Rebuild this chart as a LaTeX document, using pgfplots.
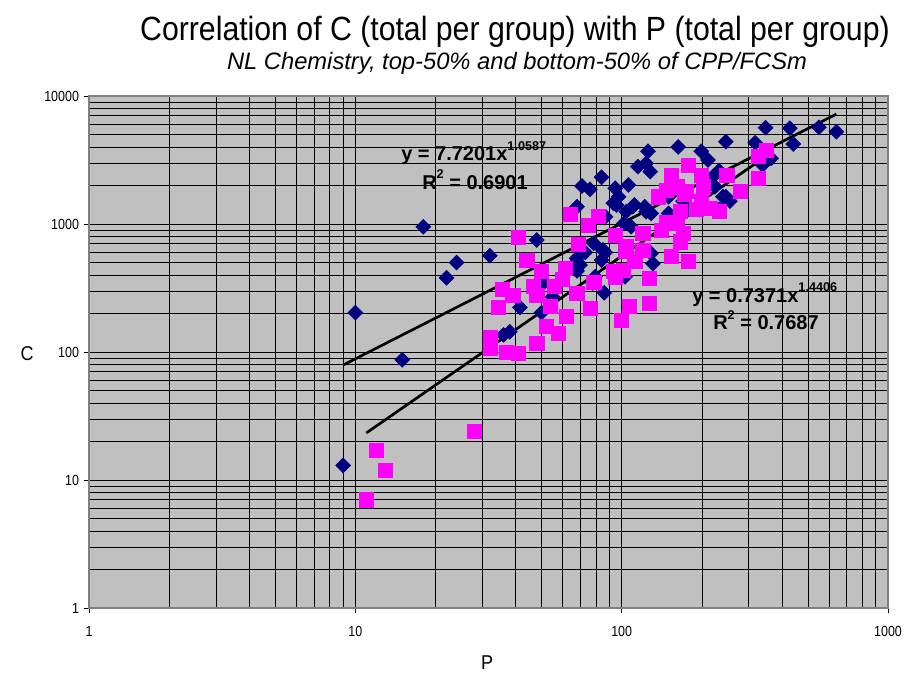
\documentclass[border=0pt]{standalone}
\usepackage{pgfplots}
\pgfplotsset{compat=1.18}
\usepackage{fontspec}
\setmainfont{Liberation Sans}
\newfontfamily\narrowfont{Liberation Sans}[FakeStretch=0.9]
\newfontfamily\ticknarrow{Liberation Sans}[FakeStretch=0.85]
\definecolor{navy}{HTML}{000080}
\definecolor{mag}{HTML}{FF00FF}
\definecolor{bg}{HTML}{C0C0C0}
\definecolor{frame}{HTML}{808080}

\pgfplotstableread{
P C
9 13
10 203
15 87
18 950
22 380
24 500
32 565
36 136
38 144
41.5 223
48 750
50.8 344
50 203
55 270
68 508
68 430
67.8 540
69.8 478
73 600
78.6 707
78 346
79.5 387
84 522
86.8 600
86 290
87 1140
85 627
103 387
71 1981
76 1866
84 2316
68 1365
94.6 1901
97.4 1633
95.6 1407
93 1454
106 2018
111.7 1407
104 1248
123.6 1248
110 1365
122 1365
129 1212
115 2806
123.6 2980
125.6 3700
163 4000
199 3700
211 3162
137.6 1633
150 1633
168 1745
150 1212
178 1297
196 1297
220 2343
246 1633
233 1297
240 1633
255 1510
224 1954
232 2610
128 2564
170 1510
102 1012
108.5 952
129 590
131 490
347 5653
428 5600
550 5700
640 5261
441 4217
246 4398
317 4315
364 3257
338 2890
}\bluedata

\pgfplotstableread{
P C
11 7
12 17
13 12
28 24
32 130
32 107
37 100
41 98
48 117
52 158
57.6 141
62 189
76 219
100 178
34.5 223
35.5 308
39 276
44 522
41 790
46.6 328
48 279
50 424
54 226
56 324
61.5 451
60 370
67.8 287
78.6 350
94.6 387
93 430
94.6 821
68.8 690
64 1200
81.5 1155
75 982
104 666
120 843
141 893
147 1036
170 843
166 727
154 560
178 510
127 376
101.5 437
112 510
103 608
120 627
178 2890
199 2415
154 2400
147 1836
137 1633
161 1954
175 1790
202 1954
199 1510
215 1320
233 1248
190 1297
166 1248
161 1010
172 1700
350 3784
325 3362
248 2415
325 2270
278 1790
127 240
107 228
}\magdata

\begin{document}
\begin{tikzpicture}
\useasboundingbox (-66.75pt,-48.75pt) rectangle (611.25pt,456pt);
\begin{axis}[
  at={(0pt,0pt)}, anchor=south west,
  scale only axis, width=599.25pt, height=384pt,
  xmode=log, ymode=log,
  xmin=1, xmax=1000, ymin=1, ymax=10000,
  axis background/.style={fill=bg},
  xtick={1,10,100,1000}, xticklabels={1,10,100,1000},
  ytick={1,10,100,1000,10000}, yticklabels={1,10,100,1000,10000},
  minor xtick={2,3,4,5,6,7,8,9,20,30,40,50,60,70,80,90,200,300,400,500,600,700,800,900},
  minor ytick={2,3,4,5,6,7,8,9,20,30,40,50,60,70,80,90,200,300,400,500,600,700,800,900,2000,3000,4000,5000,6000,7000,8000,9000},
  grid=both,
  major grid style={black, line width=0.6pt},
  minor grid style={black, line width=0.5pt},
  tick align=outside, major tick length=4pt, minor tick length=0pt,
  xtick pos=bottom, ytick pos=left,
  axis line style={frame, line width=1.2pt},
  tick style={black, line width=0.6pt},
  ticklabel style={font=\ticknarrow\fontsize{11}{13}\selectfont},
  xticklabel style={yshift=-6pt},
  /pgf/number format/assume math mode=true,
]
\addplot[only marks, mark=square*, mark size=3.95pt, mark options={rotate=45, fill=navy, draw=navy}] table[x=P, y=C] {\bluedata};
\addplot[only marks, mark=square*, mark size=5.3pt, mark options={fill=mag, draw=mag}] table[x=P, y=C] {\magdata};
\addplot[black, line width=2pt, no marks] coordinates {(9,79.05) (640,7221)};
\addplot[black, line width=2pt, no marks] coordinates {(11,23.32) (350,3408)};
\end{axis}
\node[anchor=base, font=\narrowfont\fontsize{25.2}{29}\selectfont] at (319.5pt,425.25pt) {Correlation of C (total per group) with P (total per group)};
\node[anchor=base, font=\itshape\fontsize{17.8}{21}\selectfont] at (321pt,403.5pt) {NL Chemistry, top-50\% and bottom-50\% of CPP/FCSm};
\node[anchor=base, font=\narrowfont\fontsize{15}{17}\selectfont] at (298.5pt,-46pt) {P};
\node[font=\narrowfont\fontsize{15}{17}\selectfont] at (-46.5pt,190.9pt) {C};
\node[anchor=base west, inner sep=0pt, font=\bfseries\fontsize{15}{18}\selectfont] at (234pt,335.25pt) {y = 7.7201x\raisebox{8pt}{\fontsize{9.5}{11}\selectfont 1.0587}};
\node[anchor=base west, inner sep=0pt, font=\bfseries\fontsize{15}{18}\selectfont] at (249.75pt,314pt) {R\raisebox{8pt}{\fontsize{9.5}{11}\selectfont 2} = 0.6901};
\node[anchor=base west, inner sep=0pt, font=\bfseries\fontsize{15}{18}\selectfont] at (452.25pt,229pt) {y = 0.7371x\raisebox{8pt}{\fontsize{9.5}{11}\selectfont 1.4406}};
\node[anchor=base west, inner sep=0pt, font=\bfseries\fontsize{15}{18}\selectfont] at (468pt,208.5pt) {R\raisebox{8pt}{\fontsize{9.5}{11}\selectfont 2} = 0.7687};
\end{tikzpicture}
\end{document}
